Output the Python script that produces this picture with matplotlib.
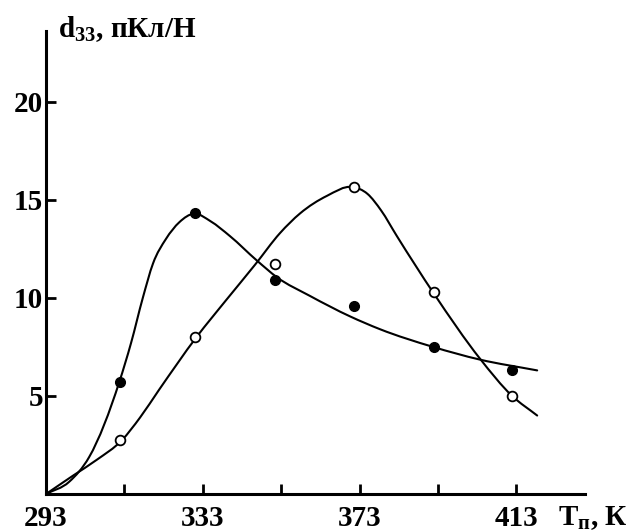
import matplotlib
matplotlib.use("Agg")
import matplotlib.pyplot as plt
from matplotlib.path import Path
from matplotlib.patches import PathPatch

# Шрифты: жирный Times-подобный
plt.rcParams["font.family"] = ["Liberation Serif", "DejaVu Serif"]
plt.rcParams["font.weight"] = "bold"
plt.rcParams["mathtext.fontset"] = "custom"
plt.rcParams["mathtext.rm"] = "Liberation Serif:bold"
plt.rcParams["mathtext.bf"] = "Liberation Serif:bold"
plt.rcParams["mathtext.it"] = "Liberation Serif:bold"

T_pts = [312, 331, 351.5, 371.5, 392, 412]
d33_filled = [5.7, 14.3, 10.9, 9.6, 7.5, 6.3]
d33_open = [2.75, 8.0, 11.7, 15.65, 10.3, 5.0]

# Опорные точки сглаженных кривых
T_curve_filled = [293, 298.9, 304, 311.7, 314.7, 317.7, 320.3, 323.6, 327,
                  330.8, 335, 339.9, 346.8, 351.9, 360.3, 370.6, 378.2,
                  391.7, 403.7, 418.3]
d_curve_filled = [0, 0.62, 1.88, 5.71, 7.7, 10.0, 11.75, 13.0, 13.85,
                  14.29, 13.9, 13.15, 11.9, 11.05, 10.1, 9.05, 8.4,
                  7.5, 6.85, 6.3]

T_curve_open = [293, 300, 306, 312.3, 317, 321.8, 331.4, 338.9, 346.3,
                352.7, 357.8, 364.7, 371.1, 375, 378.5, 382.5, 392, 403.7,
                411.9, 418.3]
d_curve_open = [0, 0.95, 1.75, 2.73, 3.9, 5.3, 8.0, 9.87, 11.68,
                13.3, 14.3, 15.2, 15.65, 15.3, 14.45, 13.15, 10.2, 6.9,
                5.0, 4.0]

x_ticks = [293, 313, 333, 353, 373, 393, 413]
x_labels = ["293", "", "333", "", "373", "", "413"]
y_ticks = [5, 10, 15, 20]
y_labels = ["5", "10", "15", "20"]


def smooth_path(xs, ys):
    # эрмитов сплайн по опорным точкам, рисуется кривыми Безье
    n = len(xs)
    h = [xs[i + 1] - xs[i] for i in range(n - 1)]
    s = [(ys[i + 1] - ys[i]) / h[i] for i in range(n - 1)]
    m = [s[0]]
    for i in range(1, n - 1):
        m.append((h[i] * s[i - 1] + h[i - 1] * s[i]) / (h[i - 1] + h[i]))
    m.append(s[-1])
    verts = [(xs[0], ys[0])]
    codes = [Path.MOVETO]
    for i in range(n - 1):
        verts += [(xs[i] + h[i] / 3, ys[i] + m[i] * h[i] / 3),
                  (xs[i + 1] - h[i] / 3, ys[i + 1] - m[i + 1] * h[i] / 3),
                  (xs[i + 1], ys[i + 1])]
        codes += [Path.CURVE4] * 3
    return Path(verts, codes)


fig = plt.figure(figsize=(6.39, 5.32), dpi=100)
ax = fig.add_axes([46 / 639, 1 - 494 / 532, (585 - 46) / 639, (494 - 31) / 532])

for xs, ys in [(T_curve_filled, d_curve_filled), (T_curve_open, d_curve_open)]:
    ax.add_patch(PathPatch(smooth_path(xs, ys), fill=False, edgecolor="black",
                           lw=1.5, zorder=2, capstyle="round"))

ax.plot(T_pts, d33_filled, "o", color="black", ms=7, zorder=3)
ax.plot(T_pts, d33_open, "o", mfc="white", mec="black", mew=1.3, ms=7, zorder=3)

ax.set_xlim(293, 430.5)
ax.set_ylim(0, 23.6)

ax.spines["top"].set_visible(False)
ax.spines["right"].set_visible(False)
ax.spines["left"].set_linewidth(2.2)
ax.spines["bottom"].set_linewidth(2.2)

ax.set_xticks(x_ticks)
ax.set_xticklabels(x_labels)
ax.set_yticks(y_ticks)
ax.set_yticklabels(y_labels)
ax.tick_params(axis="both", direction="in", length=7, width=2, labelsize=21, pad=2)
ax.tick_params(axis="x", pad=8)

fig.text(58 / 639, 1 - 37 / 532, r"$\mathbf{d}_{\mathbf{33}}$, пКл/Н",
         fontsize=21, fontweight="bold", va="baseline", ha="left")
fig.text(558 / 639, 1 - 525 / 532, r"$\mathbf{T}_{\mathbf{п}}$, К",
         fontsize=21, fontweight="bold", va="baseline", ha="left")

fig.savefig("out.png", dpi=100, facecolor="white")
